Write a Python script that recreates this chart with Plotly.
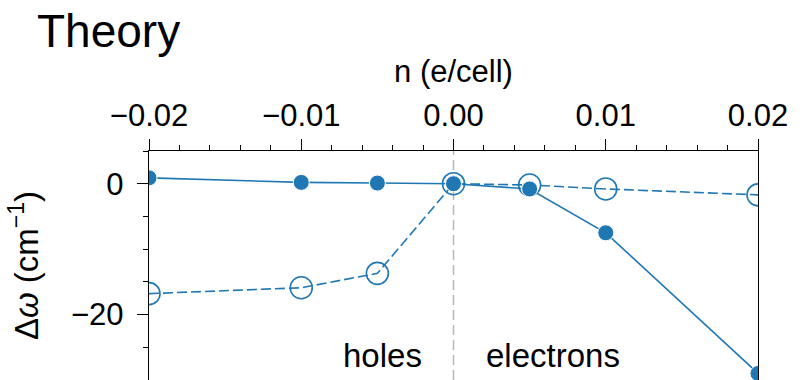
import plotly.graph_objects as go

# Data
n_values = [-0.02, -0.01, -0.005, 0.0, 0.005, 0.01, 0.02]
dw_filled = [0.9, 0.2, 0.1, 0.0, -0.8, -7.5, -29.0]
dw_open = [-16.8, -15.9, -13.7, 0.0, -0.2, -0.8, -1.7]

x_tickvals = [-0.02, -0.01, 0.0, 0.01, 0.02]
x_ticktext = ["\u22120.02", "\u22120.01", "0.00", "0.01", "0.02"]
y_tickvals = [-20, 0]
y_ticktext = ["\u221220", "0"]

BLUE = "#1f77b4"
FONT = "Liberation Sans, Arial, sans-serif"

W, H = 805, 380

fig = go.Figure()

fig.add_trace(go.Scatter(
    x=n_values, y=dw_open, mode="lines+markers",
    line=dict(color=BLUE, width=1.6, dash="10px,4px"),
    marker=dict(symbol="circle-open", size=22, color=BLUE, line=dict(width=1.6, color=BLUE)),
    cliponaxis=True, showlegend=False,
))
fig.add_trace(go.Scatter(
    x=n_values, y=dw_filled, mode="lines+markers",
    line=dict(color=BLUE, width=1.6),
    marker=dict(symbol="circle", size=16, color=BLUE, line=dict(width=1, color="white")),
    cliponaxis=True, showlegend=False,
))

fig.add_shape(type="line", xref="x", yref="paper", x0=0, x1=0, y0=0, y1=1,
              line=dict(color="#b8b8b8", width=1.5, dash="10px,5px"), layer="below")

fig.add_annotation(text="holes", xref="x", yref="y", x=-0.00468, y=-26.3,
                   showarrow=False, font=dict(family=FONT, size=33, color="black"))
fig.add_annotation(text="electrons", xref="x", yref="y", x=0.00655, y=-26.3,
                   showarrow=False, font=dict(family=FONT, size=33, color="black"))

fig.update_layout(
    width=W, height=H,
    margin=dict(l=149, r=47, t=151, b=0, autoexpand=False),
    paper_bgcolor="white", plot_bgcolor="white",
    font=dict(family=FONT, size=31, color="black"),
    title=dict(text="Theory", xref="container", yref="container",
               x=37/W, xanchor="left", y=1-31/H, yanchor="middle",
               font=dict(family=FONT, size=46, color="black")),
    xaxis=dict(
        side="top", range=[-0.02, 0.02], automargin=False,
        tickvals=x_tickvals, ticktext=x_ticktext,
        ticks="outside", ticklen=11, tickwidth=1.3, tickcolor="black",
        ticklabelstandoff=0,
        minor=dict(dtick=0.002, ticks="outside", ticklen=5, tickwidth=1.2, tickcolor="black"),
        showline=True, linecolor="black", linewidth=1.4, mirror=False,
        showgrid=False, zeroline=False,
        title=dict(text="n (e/cell)", standoff=6, font=dict(family=FONT, size=31)),
        tickfont=dict(family=FONT, size=31),
    ),
    yaxis=dict(
        range=[-30, 5], automargin=False,
        tickvals=y_tickvals, ticktext=y_ticktext,
        ticks="outside", ticklen=11, tickwidth=1.3, tickcolor="black",
        ticklabelstandoff=7,
        minor=dict(dtick=5, tick0=0, ticks="outside", ticklen=5, tickwidth=1.2, tickcolor="black"),
        showline=True, linecolor="black", linewidth=1.4, mirror=True,
        showgrid=False, zeroline=False,
        title=dict(text="\u0394<i>\u03c9</i> (cm<sup>\u22121</sup>)", standoff=22, font=dict(family=FONT, size=33)),
        tickfont=dict(family=FONT, size=31),
    ),
)

fig.write_html("out.html", config={"displayModeBar": False},
               post_script="document.body.style.margin='0px';")
